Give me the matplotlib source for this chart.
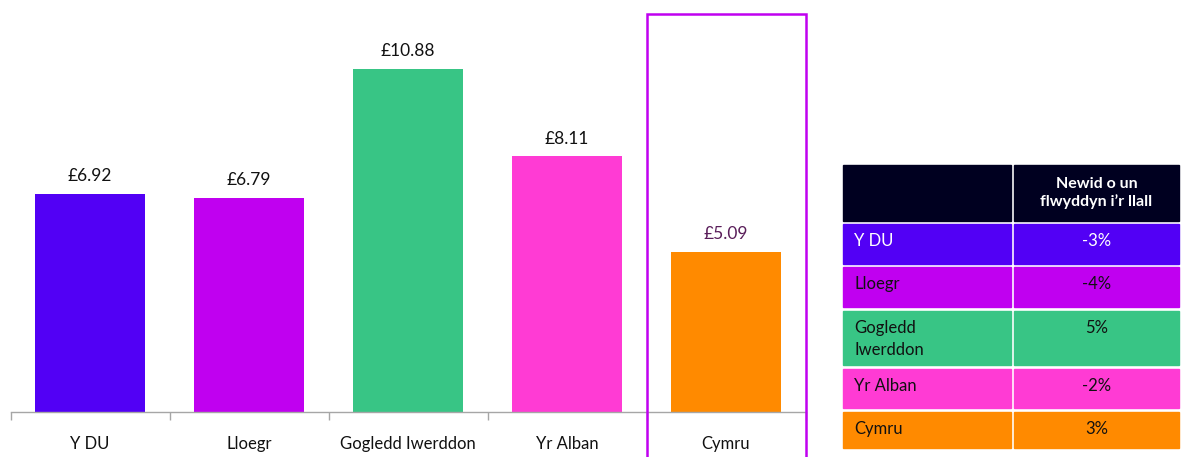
import matplotlib
matplotlib.use("Agg")
import matplotlib.pyplot as plt
from matplotlib.patches import Rectangle
import matplotlib.transforms as mtransforms

plt.rcParams['font.family'] = ['Lato', 'DejaVu Sans']

categories = ["Y DU", "Lloegr", "Gogledd Iwerddon", "Yr Alban", "Cymru"]
values = [6.92, 6.79, 10.88, 8.11, 5.09]
value_labels = ["£6.92", "£6.79", "£10.88", "£8.11", "£5.09"]
colors = ["#5200F5", "#C000F0", "#38C585", "#FF3BD4", "#FF8A00"]
label_colors = ["#111111", "#111111", "#111111", "#111111", "#5A1E5A"]

table_header = "Newid o un\nflwyddyn i’r llall"
table_rows = ["Y DU", "Lloegr", "Gogledd\nIwerddon", "Yr Alban", "Cymru"]
table_changes = ["-3%", "-4%", "5%", "-2%", "3%"]
table_text_colors = ["white", "#111111", "#111111", "#111111", "#111111"]

W, H = 1182, 457
fig = plt.figure(figsize=(W / 100, H / 100), dpi=100)

# Bar axes
ax_left, ax_right, ax_top, ax_bottom = 10.5, 805.5, 14, 412
ax = fig.add_axes([ax_left / W, (H - ax_bottom) / H,
                   (ax_right - ax_left) / W, (ax_bottom - ax_top) / H])
x = list(range(len(categories)))
ax.bar(x, values, width=0.69, color=colors, zorder=2)
ax.set_xlim(-0.5, len(categories) - 0.5)
ax.set_ylim(0, 12.63)
for xi, v, lab, lc in zip(x, values, value_labels, label_colors):
    ax.annotate(lab, (xi, v), xytext=(0, 7), textcoords="offset points",
                ha="center", va="bottom", fontsize=12.5, color=lc)
for s in ["top", "right", "left"]:
    ax.spines[s].set_visible(False)
ax.spines["bottom"].set_color("#A6A6A6")
ax.spines["bottom"].set_linewidth(1.0)
ax.set_yticks([])
ax.set_xticks([i - 0.5 for i in range(len(categories) + 1)], minor=False)
ax.set_xticklabels([])
ax.tick_params(axis="x", which="major", length=6, color="#A6A6A6", width=1.0)
ax.set_xticks(x, minor=True)
ax.set_xticklabels(categories, minor=True, fontsize=12, color="#111111")
ax.tick_params(axis="x", which="minor", length=0, pad=17)

# Highlight box around Cymru
trans = mtransforms.blended_transform_factory(ax.transData, ax.transAxes)
ax.add_patch(Rectangle((3.5, -0.15), 1.0, 1.15, transform=trans, fill=False,
                       edgecolor="#C000F0", linewidth=1.8, clip_on=False, zorder=3))

# Table overlay in pixel coordinates
ov = fig.add_axes([0, 0, 1, 1])
ov.set_xlim(0, W)
ov.set_ylim(H, 0)
ov.axis("off")
col1 = (843, 1011)
col2 = (1014, 1179)
rows_y = [(165, 221), (224, 264), (267, 307), (311, 365), (369, 408), (412, 448)]

hy0, hy1 = rows_y[0]
for c in (col1, col2):
    ov.add_patch(Rectangle((c[0], hy0), c[1] - c[0], hy1 - hy0, color="#000020"))
ov.text((col2[0] + col2[1]) / 2, (hy0 + hy1) / 2, table_header, ha="center",
        va="center", color="white", fontsize=11.5, fontweight="bold", linespacing=1.2)

for (y0, y1), name, ch, col, tc in zip(rows_y[1:], table_rows, table_changes,
                                         colors, table_text_colors):
    for c in (col1, col2):
        ov.add_patch(Rectangle((c[0], y0), c[1] - c[0], y1 - y0, color=col))
    ov.text(col1[0] + 11, y0 + 9, name, ha="left", va="top", color=tc,
            fontsize=12, linespacing=1.45)
    ov.text((col2[0] + col2[1]) / 2, y0 + 9, ch, ha="center", va="top", color=tc,
            fontsize=12)

fig.savefig("out.png", dpi=100)
